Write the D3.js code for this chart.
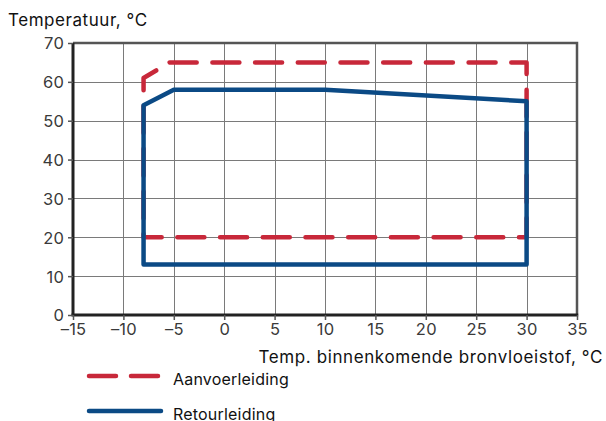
<!DOCTYPE html>
<html>
<head>
<meta charset="utf-8">
<script src="https://cdn.jsdelivr.net/npm/d3@7"></script>
<style>
  body { margin: 0; background: #fff; }
  svg { display: block; font-family: Inter, "Noto Sans", sans-serif; }
</style>
</head>
<body>
<svg width="606" height="421"></svg>
<script>
var svg = d3.select("svg");

// data
var xTicks = [-15, -10, -5, 0, 5, 10, 15, 20, 25, 30, 35],
    yTicks = [0, 10, 20, 30, 40, 50, 60, 70];

var aanvoerX = [-8, -8, -5.4, 30, 30],
    aanvoerY = [20, 61, 65, 65, 20];

var retourX = [-8, -8, -5, 10, 30, 30],
    retourY = [13, 54, 58, 58, 55, 13];

var red = "#c8283a", blue = "#0b4a85";

var x = d3.scaleLinear().domain([-15, 35]).range([73, 577]),
    y = d3.scaleLinear().domain([0, 70]).range([315, 43]);

var line = d3.line()
    .x(function(d) { return x(d[0]); })
    .y(function(d) { return y(d[1]); })
    .curve(d3.curveLinearClosed);

// grid
svg.append("g")
  .selectAll("line")
  .data(xTicks.slice(1, -1))
  .enter().append("line")
    .attr("x1", function(d) { return Math.round(x(d)) + 0.5; })
    .attr("x2", function(d) { return Math.round(x(d)) + 0.5; })
    .attr("y1", y(70)).attr("y2", y(0))
    .attr("stroke", "#7a7a7a").attr("stroke-width", 1);

svg.append("g")
  .selectAll("line")
  .data(yTicks.slice(1, -1))
  .enter().append("line")
    .attr("y1", function(d) { return Math.round(y(d)) + 0.5; })
    .attr("y2", function(d) { return Math.round(y(d)) + 0.5; })
    .attr("x1", x(-15)).attr("x2", x(35))
    .attr("stroke", "#7a7a7a").attr("stroke-width", 1);

// frame top / right
svg.append("path")
    .attr("d", "M" + x(-15) + "," + y(70) + "H" + x(35) + "V" + y(0))
    .attr("fill", "none").attr("stroke", "#555").attr("stroke-width", 2.5);

// axes
var xAxis = svg.append("g")
    .attr("transform", "translate(0," + y(0) + ")")
    .call(d3.axisBottom(x).tickValues(xTicks).tickSize(5).tickPadding(3)
      .tickFormat(function(d) { return d < 0 ? "\u2013" + (-d) : d; }));

var yAxis = svg.append("g")
    .attr("transform", "translate(" + x(-15) + ",0)")
    .call(d3.axisLeft(y).tickValues(yTicks).tickSize(5).tickPadding(4));

[xAxis, yAxis].forEach(function(g) {
  g.attr("font-family", null);
  g.select(".domain").attr("stroke", "#222").attr("stroke-width", 3);
  g.selectAll(".tick line").attr("stroke", "#555").attr("stroke-width", 1.5);
  g.selectAll(".tick text").attr("fill", "#3a3a3a")
      .style("font-size", "16.5px").style("letter-spacing", "0.2px");
});
xAxis.select(".domain").attr("d", "M" + (x(-15) - 1.5) + ",0H" + (x(35) + 1.2));
yAxis.select(".domain").attr("d", "M0," + y(0) + "V" + y(70));
yAxis.selectAll(".tick text").attr("dy", "0.36em");

// series
svg.append("path")
    .datum(d3.zip(aanvoerX, aanvoerY))
    .attr("d", line)
    .attr("fill", "none")
    .attr("stroke", red)
    .attr("stroke-width", 4.5)
    .attr("stroke-linecap", "round")
    .attr("stroke-linejoin", "round")
    .attr("stroke-dasharray", "27 15.7")
    .attr("stroke-dashoffset", 23.8);

svg.append("path")
    .datum(d3.zip(retourX, retourY))
    .attr("d", line)
    .attr("fill", "none")
    .attr("stroke", blue)
    .attr("stroke-width", 4.5)
    .attr("stroke-linejoin", "round");

// titles
svg.append("text")
    .attr("x", 8).attr("y", 25.5)
    .style("font-size", "17px").style("letter-spacing", "0.55px")
    .attr("fill", "#111")
    .text("Temperatuur, \u00b0C");

svg.append("text")
    .attr("x", 603).attr("y", 363)
    .attr("text-anchor", "end")
    .style("font-size", "17px").style("letter-spacing", "0.6px")
    .attr("fill", "#111")
    .text("Temp. binnenkomende bronvloeistof, \u00b0C");

// legend
var legend = svg.append("g")
  .selectAll("g")
  .data([
    {name: "Aanvoerleiding", color: red, dash: "27 15"},
    {name: "Retourleiding", color: blue, dash: null}
  ])
  .enter().append("g")
    .attr("transform", function(d, i) { return "translate(0," + (376 + i * 35) + ")"; });

legend.append("line")
    .attr("x1", 89).attr("x2", function(d) { return d.dash ? 158 : 161; })
    .attr("stroke", function(d) { return d.color; })
    .attr("stroke-width", 4.5)
    .attr("stroke-linecap", "round")
    .attr("stroke-dasharray", function(d) { return d.dash; });

legend.append("text")
    .attr("x", 173).attr("y", 9)
    .style("font-size", "16px").style("letter-spacing", "0.2px")
    .attr("fill", "#111")
    .text(function(d) { return d.name; });
</script>
</body>
</html>
